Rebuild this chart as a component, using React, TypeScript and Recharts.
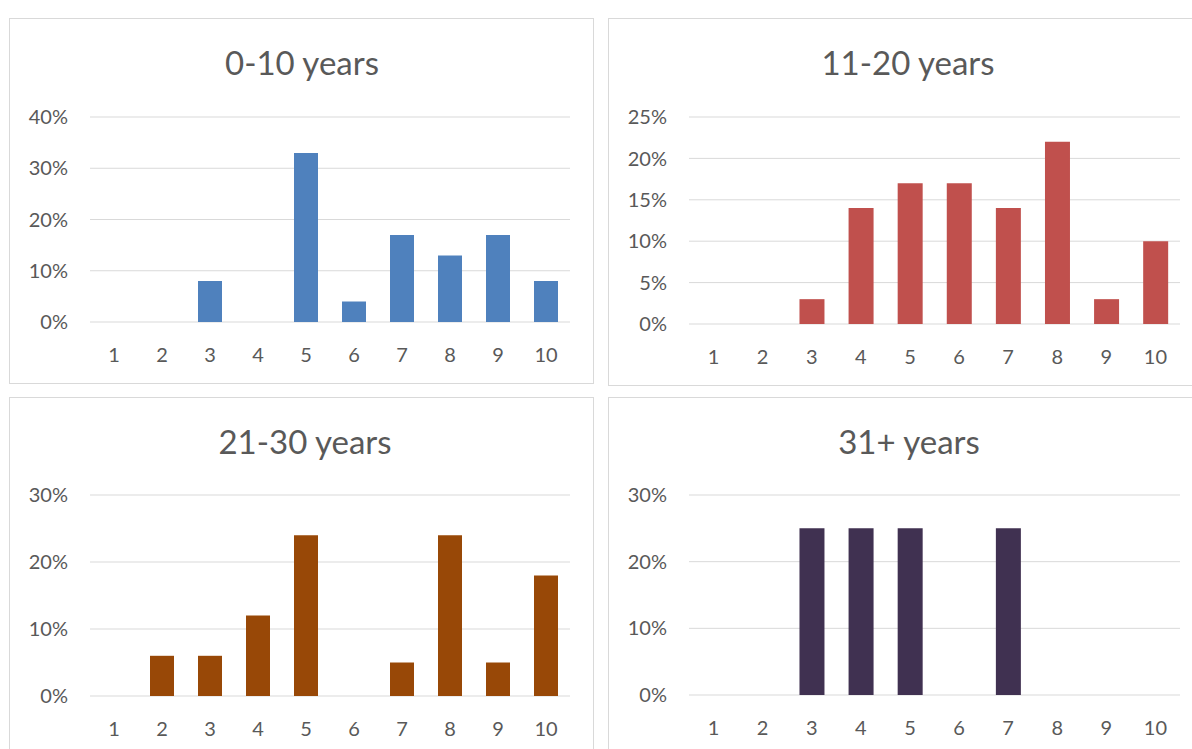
import React from "react";
import { BarChart, Bar, XAxis, YAxis, CartesianGrid } from "recharts";

const categories = [1, 2, 3, 4, 5, 6, 7, 8, 9, 10];
const titles = ["0-10 years", "11-20 years", "21-30 years", "31+ years"];
const values0to10 = [0, 0, 8, 0, 33, 4, 17, 13, 17, 8];
const values11to20 = [0, 0, 3, 14, 17, 17, 14, 22, 3, 10];
const values21to30 = [0, 6, 6, 12, 24, 0, 5, 24, 5, 18];
const values31plus = [0, 0, 25, 25, 25, 0, 25, 0, 0, 0];
const ticks0to10 = [0, 10, 20, 30, 40];
const ticks11to20 = [0, 5, 10, 15, 20, 25];
const ticks21to30 = [0, 10, 20, 30];
const ticks31plus = [0, 10, 20, 30];
const colors = ["#4F81BD", "#C0504D", "#984807", "#403151"];

const FONT = "Lato, 'Open Sans', sans-serif";
const TEXT = "#595959";
const GRID = "#d9d9d9";

type Panel = {
  title: string;
  values: number[];
  ticks: number[];
  color: string;
  box: { left: number; top: number; width: number; height: number };
  plot: { left: number; right: number; top: number; bottom: number };
  titleY: number;
  titleX: number;
};

const panels: Panel[] = [
  {
    title: titles[0], values: values0to10, ticks: ticks0to10, color: colors[0],
    box: { left: 9, top: 18, width: 585, height: 366 },
    plot: { left: 90, right: 570, top: 117, bottom: 322 },
    titleY: 62, titleX: 302,
  },
  {
    title: titles[1], values: values11to20, ticks: ticks11to20, color: colors[1],
    box: { left: 608, top: 18, width: 600, height: 368 },
    plot: { left: 689, right: 1180, top: 117, bottom: 324 },
    titleY: 62, titleX: 908,
  },
  {
    title: titles[2], values: values21to30, ticks: ticks21to30, color: colors[2],
    box: { left: 9, top: 397, width: 585, height: 360 },
    plot: { left: 90, right: 570, top: 495, bottom: 696 },
    titleY: 441, titleX: 305,
  },
  {
    title: titles[3], values: values31plus, ticks: ticks31plus, color: colors[3],
    box: { left: 608, top: 397, width: 600, height: 360 },
    plot: { left: 689, right: 1180, top: 495, bottom: 695 },
    titleY: 441, titleX: 909,
  },
];

function ChartPanel({ p }: { p: Panel }) {
  const data = categories.map((c, i) => ({ cat: String(c), v: p.values[i] }));
  const { box, plot } = p;
  const max = p.ticks[p.ticks.length - 1];
  return (
    <>
      <div
        style={{
          position: "absolute",
          left: box.left,
          top: box.top,
          width: box.width,
          height: box.height,
        }}
      >
        <BarChart
          width={box.width}
          height={box.height}
          data={data}
          margin={{
            top: plot.top - box.top,
            right: box.left + box.width - plot.right,
            left: 0,
            bottom: 0,
          }}
          barCategoryGap="25%"
        >
          <CartesianGrid horizontal vertical={false} stroke={GRID} strokeWidth={1} />
          <XAxis
            dataKey="cat"
            axisLine={false}
            tickLine={false}
            tickSize={0}
            tickMargin={26}
            height={box.top + box.height - plot.bottom}
            interval={0}
            tick={{ fill: TEXT, fontSize: 20, fontFamily: FONT }}
          />
          <YAxis
            domain={[0, max]}
            ticks={p.ticks}
            axisLine={false}
            tickLine={false}
            tickSize={0}
            tickMargin={22}
            width={plot.left - box.left}
            tickFormatter={(v: number) => `${v}%`}
            tick={{ fill: TEXT, fontSize: 20, fontFamily: FONT }}
          />
          <Bar dataKey="v" fill={p.color} isAnimationActive={false} />
        </BarChart>
      </div>
      <div
        style={{
          position: "absolute",
          left: p.titleX - 200,
          width: 400,
          top: p.titleY - 20,
          height: 40,
          lineHeight: "40px",
          textAlign: "center",
          fontFamily: FONT,
          fontSize: 33,
          color: TEXT,
        }}
      >
        {p.title}
      </div>
      <div
        style={{
          position: "absolute",
          left: box.left,
          top: box.top,
          width: box.width,
          height: box.height,
          border: `1px solid ${GRID}`,
          boxSizing: "border-box",
          pointerEvents: "none",
        }}
      />
    </>
  );
}

export default function App() {
  return (
    <div
      style={{
        position: "absolute",
        left: 0,
        top: 0,
        width: 1192,
        height: 749,
        overflow: "hidden",
        background: "#ffffff",
      }}
    >
      {panels.map((p) => (
        <ChartPanel key={p.title} p={p} />
      ))}
    </div>
  );
}
